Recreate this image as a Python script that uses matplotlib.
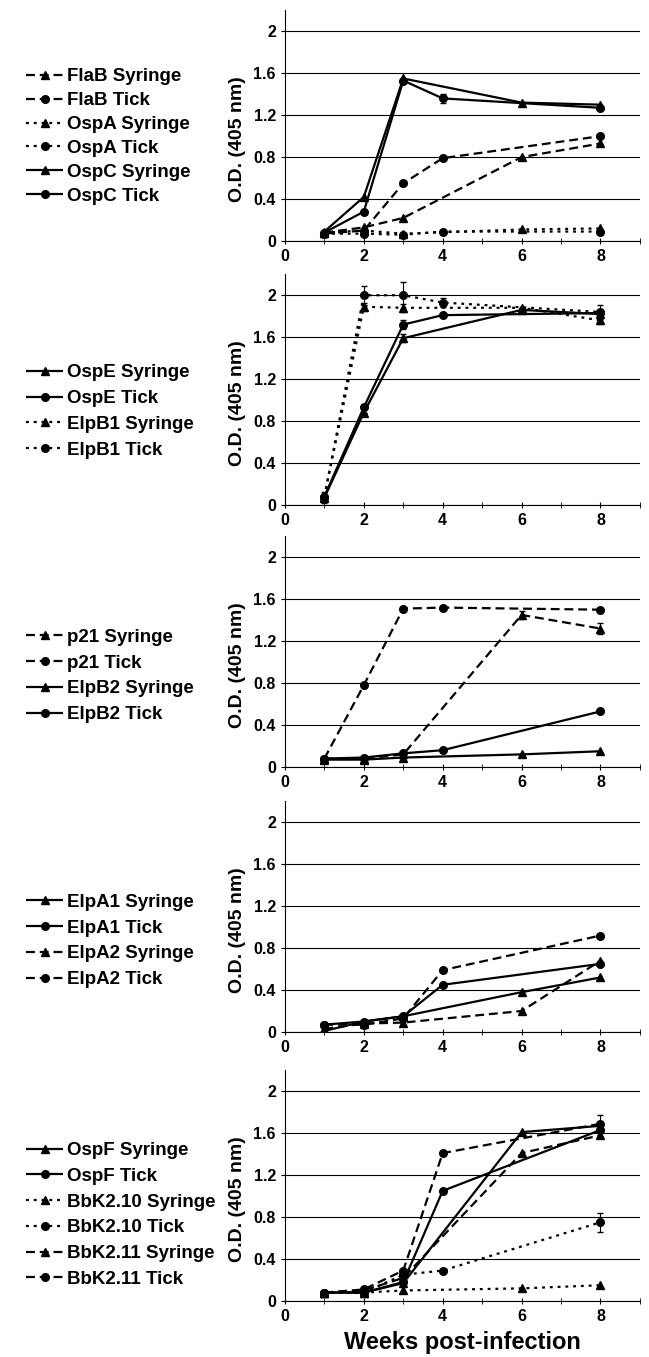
import numpy as np
import matplotlib
matplotlib.use('Agg')
import matplotlib.pyplot as plt

plt.rcParams['font.family'] = ['Liberation Sans', 'DejaVu Sans']
plt.rcParams['font.weight'] = 'bold'

# sampling weeks (syringe groups skip week 4, tick groups skip week 6)
syr_weeks = [1, 2, 3, 6, 8]
tick_weeks = [1, 2, 3, 4, 8]

# panel 1
flab_syr = [0.08, 0.13, 0.22, 0.80, 0.93]
flab_tick = [0.07, 0.10, 0.55, 0.79, 1.00]
ospa_syr = [0.08, 0.10, 0.07, 0.11, 0.12]
ospa_tick = [0.07, 0.07, 0.06, 0.09, 0.09]
ospc_syr = [0.09, 0.42, 1.55, 1.32, 1.30]
ospc_tick = [0.08, 0.28, 1.53, 1.36, 1.27]
ospc_tick_err = [0, 0, 0, 0.04, 0]

# panel 2
ospe_syr = [0.07, 0.88, 1.59, 1.86, 1.82]
ospe_syr_err = [0.05, 0, 0.04, 0, 0]
ospe_tick = [0.08, 0.93, 1.72, 1.81, 1.83]
ospe_tick_err = [0, 0, 0.04, 0, 0]
elpb1_syr = [0.08, 1.89, 1.88, 1.88, 1.76]
elpb1_syr_err = [0, 0.04, 0.04, 0, 0.03]
elpb1_tick = [0.08, 2.00, 2.00, 1.93, 1.84]
elpb1_tick_err = [0, 0.09, 0.13, 0.04, 0.07]

# panel 3
p21_syr = [0.08, 0.08, 0.12, 1.45, 1.32]
p21_syr_err = [0, 0, 0, 0.04, 0.05]
p21_tick = [0.08, 0.78, 1.51, 1.52, 1.50]
elpb2_syr = [0.07, 0.07, 0.09, 0.12, 0.15]
elpb2_tick = [0.08, 0.09, 0.13, 0.16, 0.53]

# panel 4
elpa1_syr = [0.01, 0.10, 0.15, 0.38, 0.52]
elpa1_tick = [0.07, 0.10, 0.15, 0.45, 0.65]
elpa2_syr = [0.03, 0.08, 0.09, 0.20, 0.68]
elpa2_tick = [0.07, 0.07, 0.13, 0.59, 0.92]

# panel 5
ospf_syr = [0.08, 0.08, 0.17, 1.61, 1.67]
ospf_tick = [0.08, 0.08, 0.18, 1.05, 1.63]
bbk210_syr = [0.08, 0.08, 0.10, 0.12, 0.15]
bbk210_tick = [0.08, 0.08, 0.25, 0.29, 0.75]
bbk210_tick_err = [0, 0, 0, 0, 0.09]
bbk211_syr = [0.08, 0.10, 0.22, 1.41, 1.58]
bbk211_tick = [0.08, 0.11, 0.29, 1.41, 1.69]
bbk211_tick_err = [0, 0, 0, 0, 0.08]

y_ticks = [0, 0.4, 0.8, 1.2, 1.6, 2]
y_ticklabels = ['0', '0.4', '0.8', '1.2', '1.6', '2']
x_ticks = [0, 2, 4, 6, 8]

# (label, weeks, values, errors, linestyle, marker)
panels = [
    [('FlaB Syringe', syr_weeks, flab_syr, None, 'dash', '^'),
     ('FlaB Tick', tick_weeks, flab_tick, None, 'dash', 'o'),
     ('OspA Syringe', syr_weeks, ospa_syr, None, 'dot', '^'),
     ('OspA Tick', tick_weeks, ospa_tick, None, 'dot', 'o'),
     ('OspC Syringe', syr_weeks, ospc_syr, None, 'solid', '^'),
     ('OspC Tick', tick_weeks, ospc_tick, ospc_tick_err, 'solid', 'o')],
    [('OspE Syringe', syr_weeks, ospe_syr, ospe_syr_err, 'solid', '^'),
     ('OspE Tick', tick_weeks, ospe_tick, ospe_tick_err, 'solid', 'o'),
     ('ElpB1 Syringe', syr_weeks, elpb1_syr, elpb1_syr_err, 'dot', '^'),
     ('ElpB1 Tick', tick_weeks, elpb1_tick, elpb1_tick_err, 'dot', 'o')],
    [('p21 Syringe', syr_weeks, p21_syr, p21_syr_err, 'dash', '^'),
     ('p21 Tick', tick_weeks, p21_tick, None, 'dash', 'o'),
     ('ElpB2 Syringe', syr_weeks, elpb2_syr, None, 'solid', '^'),
     ('ElpB2 Tick', tick_weeks, elpb2_tick, None, 'solid', 'o')],
    [('ElpA1 Syringe', syr_weeks, elpa1_syr, None, 'solid', '^'),
     ('ElpA1 Tick', tick_weeks, elpa1_tick, None, 'solid', 'o'),
     ('ElpA2 Syringe', syr_weeks, elpa2_syr, None, 'dash', '^'),
     ('ElpA2 Tick', tick_weeks, elpa2_tick, None, 'dash', 'o')],
    [('OspF Syringe', syr_weeks, ospf_syr, None, 'solid', '^'),
     ('OspF Tick', tick_weeks, ospf_tick, None, 'solid', 'o'),
     ('BbK2.10 Syringe', syr_weeks, bbk210_syr, None, 'dot', '^'),
     ('BbK2.10 Tick', tick_weeks, bbk210_tick, bbk210_tick_err, 'dot', 'o'),
     ('BbK2.11 Syringe', syr_weeks, bbk211_syr, None, 'dash', '^'),
     ('BbK2.11 Tick', tick_weeks, bbk211_tick, bbk211_tick_err, 'dash', 'o')],
]

DASHES = {'dash': (4, 2.2), 'dot': (1.3, 2.2), 'solid': None}

# panel bottoms and legend centres in figure fractions
AX_LEFT, AX_WIDTH, AX_HEIGHT = 0.439, 0.547, 0.170
AX_BOTTOMS = [0.8224, 0.6279, 0.4348, 0.2395, 0.0413]
LEG_CENTERS = [0.8994, 0.6968, 0.5018, 0.3066, 0.1046]
LEG_SPACING = [0.36, 0.46, 0.46, 0.46, 0.46]


def draw_panel(ax, series):
    handles = []
    for label, weeks, vals, err, style, marker in series:
        line, = ax.plot(weeks, vals, color='black', lw=1.6,
                        marker=marker, markersize=5.5, label=label,
                        solid_capstyle='butt', dash_capstyle='butt')
        if DASHES[style] is not None:
            line.set_dashes(DASHES[style])
        if err is not None:
            ax.errorbar(weeks, vals, yerr=err, fmt='none', ecolor='black',
                        elinewidth=0.8, capsize=2)
        handles.append(line)

    ax.set_xlim(0, 9)
    ax.set_ylim(0, 2.2)
    ax.set_yticks(y_ticks)
    ax.set_yticklabels(y_ticklabels)
    ax.set_xticks(x_ticks)
    ax.set_xticks(range(0, 10), minor=True)
    ax.yaxis.grid(True, color='black', lw=0.8)
    ax.set_axisbelow(True)
    ax.spines['right'].set_visible(False)
    ax.spines['top'].set_visible(False)
    ax.tick_params(axis='both', labelsize=11.5, width=0.8)
    ax.tick_params(axis='x', which='both', direction='inout', length=5)
    ax.tick_params(axis='y', length=3)
    ax.set_ylabel('O.D. (405 nm)', fontsize=14, fontweight='bold')
    ax.yaxis.set_label_coords(-0.11, 0.44)
    return handles


def main():
    fig = plt.figure(figsize=(6.49, 13.57), dpi=100)

    for i, series in enumerate(panels):
        ax = fig.add_axes([AX_LEFT, AX_BOTTOMS[i], AX_WIDTH, AX_HEIGHT])
        handles = draw_panel(ax, series)
        fig.legend(handles=handles, loc='center left',
                   bbox_to_anchor=(0.040, LEG_CENTERS[i]),
                   frameon=False, fontsize=13.5, handlelength=2.0,
                   handletextpad=0.2, labelspacing=LEG_SPACING[i],
                   borderpad=0, borderaxespad=0, numpoints=1)
        if i == len(panels) - 1:
            ax.set_xlabel('Weeks post-infection', fontsize=17,
                          fontweight='bold', labelpad=5)

    fig.savefig('out.png', dpi=100)


if __name__ == '__main__':
    main()
